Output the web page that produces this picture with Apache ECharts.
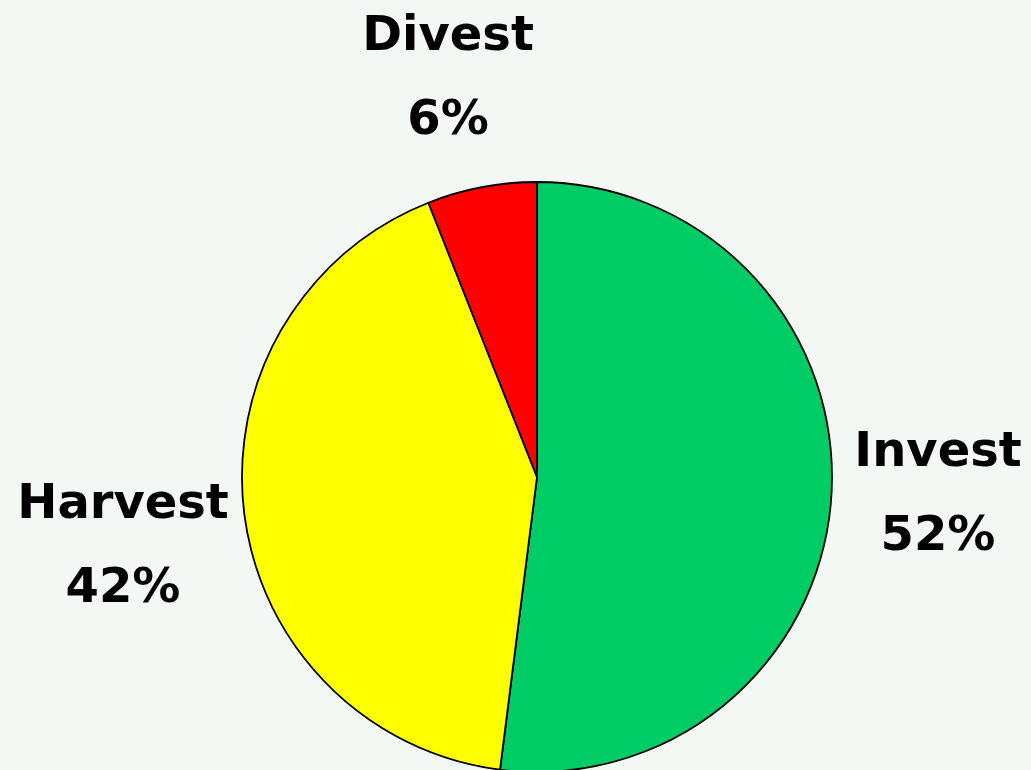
<!DOCTYPE html>
<html>
<head>
<meta charset="utf-8">
<script src="https://cdn.jsdelivr.net/npm/echarts@6/dist/echarts.min.js"></script>
<style>
  html, body { margin: 0; padding: 0; background: #f3f8f4; }
  #chart { width: 1031px; height: 770px; }
</style>
</head>
<body>
<div id="chart"></div>
<script>
// Portfolio strategy split
const categories = ['Invest', 'Harvest', 'Divest'];
const shares = [52, 42, 6];
const sliceColors = ['#00cc66', '#ffff00', '#ff0000'];

// Label anchor points (block centres) for each slice's caption
const labelAnchors = [
  { x: 938, y: 496 },
  { x: 123, y: 548 },
  { x: 448, y: 80 }
];

const chart = echarts.init(document.getElementById('chart'), null, { renderer: 'canvas' });

chart.setOption({
  backgroundColor: '#f3f8f4',
  animation: false,
  series: [{
    type: 'pie',
    center: [537, 477],
    radius: [0, 295],
    startAngle: 90,
    clockwise: true,
    avoidLabelOverlap: false,
    data: categories.map((name, i) => ({
      name: name,
      value: shares[i],
      itemStyle: { color: sliceColors[i] }
    })),
    itemStyle: { borderColor: '#000', borderWidth: 1.8 },
    label: {
      show: true,
      position: 'outside',
      formatter: '{b}\n{c}%',
      fontFamily: 'DejaVu Sans',
      fontWeight: 'bold',
      fontSize: 48,
      lineHeight: 84,
      color: '#000',
      overflow: 'none',
      width: 400
    },
    labelLine: { show: false },
    labelLayout: function (params) {
      const a = labelAnchors[params.dataIndex];
      return { x: a.x, y: a.y, align: 'center', verticalAlign: 'middle', hideOverlap: false };
    },
    emphasis: { disabled: true }
  }]
});
</script>
</body>
</html>
